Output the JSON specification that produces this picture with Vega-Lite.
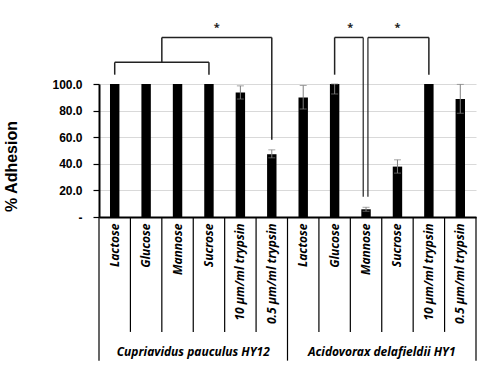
{
  "$schema": "https://vega.github.io/schema/vega-lite/v6.json",
  "width": 377,
  "height": 133,
  "autosize": {"type": "none"},
  "padding": {"left": 99, "top": 84, "right": 11, "bottom": 150},
  "config": {
    "view": {"stroke": null},
    "font": "Noto Sans",
    "axisX": {"title": null, "labelAngle": -90, "labelAlign": "right", "labelBaseline": "middle", "labelPadding": 6, "labelFont": "Noto Sans", "labelFontStyle": "italic", "labelFontWeight": "bold", "labelFontSize": 12, "labelColor": "black", "ticks": false, "domain": true, "domainColor": "black", "domainWidth": 2, "grid": false, "labelLimit": 200, "labelOverlap": false},
    "axisY": {"grid": true, "domain": true, "labelFont": "Liberation Sans", "labelFontWeight": "bold", "labelFontSize": 12, "labelColor": "black", "ticks": true, "tickColor": "black", "tickSize": 6, "tickWidth": 1.2, "labelPadding": 11, "domainColor": "black", "domainWidth": 2, "gridColor": "#d9d9d9", "gridWidth": 1, "titleFont": "Liberation Sans", "titleFontSize": 16, "titleFontWeight": "bold", "titleColor": "black", "titleX": -80, "titleY": 82, "titleAngle": -90, "labelOverlap": false}
  },
  "datasets": {
    "bars": [
      {"key": "C|Lactose", "value": 100},
      {"key": "C|Glucose", "value": 100},
      {"key": "C|Mannose", "value": 100},
      {"key": "C|Sucrose", "value": 100},
      {"key": "C|10 µm/ml trypsin", "value": 93.7, "lo": 88.7, "hi": 98.6},
      {"key": "C|0.5 µm/ml trypsin", "value": 47.2, "lo": 44.5, "hi": 50.5},
      {"key": "A|Lactose", "value": 89.9, "lo": 81.2, "hi": 98.9},
      {"key": "A|Glucose", "value": 100, "lo": 92.5, "hi": 100},
      {"key": "A|Mannose", "value": 5.8, "lo": 4.3, "hi": 7.3},
      {"key": "A|Sucrose", "value": 37.9, "lo": 33, "hi": 43},
      {"key": "A|10 µm/ml trypsin", "value": 100},
      {"key": "A|0.5 µm/ml trypsin", "value": 88.7, "lo": 78, "hi": 99.7}
    ]
  },
  "encoding": {
    "x": {"field": "key", "type": "nominal", "sort": null,
      "scale": {"domain": ["C|Lactose","C|Glucose","C|Mannose","C|Sucrose","C|10 µm/ml trypsin","C|0.5 µm/ml trypsin","A|Lactose","A|Glucose","A|Mannose","A|Sucrose","A|10 µm/ml trypsin","A|0.5 µm/ml trypsin"], "paddingInner": 0, "paddingOuter": 0},
      "axis": {"title": null, "labelExpr": "split(datum.label,'|')[1]"}
    }
  },
  "layer": [
    {
      "data": {"name": "bars"},
      "mark": {"type": "bar", "color": "black", "width": {"band": 0.3}},
      "encoding": {
        "y": {"field": "value", "type": "quantitative", "scale": {"domain": [0, 100], "nice": false},
          "axis": {"title": "% Adhesion", "values": [0, 20, 40, 60, 80, 100], "grid": true, "domain": true, "ticks": true, "labels": true, "labelOverlap": false, "labelExpr": "datum.value==0?'-\u00a0\u00a0\u00a0':format(datum.value,'.1f')"}
        }
      }
    },
    {
      "data": {"name": "bars"},
      "transform": [{"filter": "isValid(datum.lo)"}],
      "mark": {"type": "errorbar", "ticks": {"size": 7}, "color": "#7f7f7f"},
      "encoding": {
        "y": {"field": "lo", "type": "quantitative", "axis": {"title": "% Adhesion", "values": [0, 20, 40, 60, 80, 100], "grid": true, "domain": true, "ticks": true, "labels": true, "labelOverlap": false, "labelExpr": "datum.value==0?'-\u00a0\u00a0\u00a0':format(datum.value,'.1f')"}},
        "y2": {"field": "hi"}
      }
    },
    {
      "data": {"values": [
        {"key": "C|Lactose", "from": 107, "to": 116.3},
        {"key": "C|Sucrose", "from": 107, "to": 116.3},
        {"key": "C|0.5 µm/ml trypsin", "from": 58, "to": 135},
        {"key": "A|Glucose", "from": 107, "to": 135},
        {"key": "A|10 µm/ml trypsin", "from": 107, "to": 135}
      ]},
      "mark": {"type": "rule", "color": "#222222", "strokeWidth": 1.5},
      "encoding": {
        "y": {"field": "from", "type": "quantitative", "axis": {"title": "% Adhesion", "values": [0, 20, 40, 60, 80, 100], "grid": true, "domain": true, "ticks": true, "labels": true, "labelOverlap": false, "labelExpr": "datum.value==0?'-\u00a0\u00a0\u00a0':format(datum.value,'.1f')"}},
        "y2": {"field": "to"}
      }
    },
    {
      "data": {"values": [{"key": "C|Lactose", "key2": "C|Sucrose", "level": 116.3}]},
      "mark": {"type": "rule", "color": "#222222", "strokeWidth": 1.5},
      "encoding": {
        "x2": {"field": "key2"},
        "y": {"field": "level", "type": "quantitative", "axis": {"title": "% Adhesion", "values": [0, 20, 40, 60, 80, 100], "grid": true, "domain": true, "ticks": true, "labels": true, "labelOverlap": false, "labelExpr": "datum.value==0?'-\u00a0\u00a0\u00a0':format(datum.value,'.1f')"}}
      }
    },
    {
      "data": {"values": [{"key": "C|Glucose", "from": 116.3, "to": 135}]},
      "mark": {"type": "rule", "color": "#222222", "strokeWidth": 1.5},
      "encoding": {
        "x": {"field": "key", "type": "nominal", "sort": null, "bandPosition": 1, "axis": {"title": null, "labelExpr": "split(datum.label,'|')[1]"}},
        "y": {"field": "from", "type": "quantitative", "axis": {"title": "% Adhesion", "values": [0, 20, 40, 60, 80, 100], "grid": true, "domain": true, "ticks": true, "labels": true, "labelOverlap": false, "labelExpr": "datum.value==0?'-\u00a0\u00a0\u00a0':format(datum.value,'.1f')"}},
        "y2": {"field": "to"}
      }
    },
    {
      "data": {"values": [{"key": "C|Glucose", "key2": "C|0.5 µm/ml trypsin", "level": 135}]},
      "mark": {"type": "rule", "color": "#222222", "strokeWidth": 1.5},
      "encoding": {
        "x": {"field": "key", "type": "nominal", "sort": null, "bandPosition": 1, "axis": {"title": null, "labelExpr": "split(datum.label,'|')[1]"}},
        "x2": {"field": "key2"},
        "y": {"field": "level", "type": "quantitative", "axis": {"title": "% Adhesion", "values": [0, 20, 40, 60, 80, 100], "grid": true, "domain": true, "ticks": true, "labels": true, "labelOverlap": false, "labelExpr": "datum.value==0?'-\u00a0\u00a0\u00a0':format(datum.value,'.1f')"}}
      }
    },
    {
      "data": {"values": [{"key": "A|Mannose", "from": 15.3, "to": 135}]},
      "mark": {"type": "rule", "color": "#222222", "strokeWidth": 1.2},
      "encoding": {
        "x": {"field": "key", "type": "nominal", "sort": null, "bandPosition": 0.41, "axis": {"title": null, "labelExpr": "split(datum.label,'|')[1]"}},
        "y": {"field": "from", "type": "quantitative", "axis": {"title": "% Adhesion", "values": [0, 20, 40, 60, 80, 100], "grid": true, "domain": true, "ticks": true, "labels": true, "labelOverlap": false, "labelExpr": "datum.value==0?'-\u00a0\u00a0\u00a0':format(datum.value,'.1f')"}},
        "y2": {"field": "to"}
      }
    },
    {
      "data": {"values": [{"key": "A|Mannose", "from": 15.3, "to": 135}]},
      "mark": {"type": "rule", "color": "#222222", "strokeWidth": 1.2},
      "encoding": {
        "x": {"field": "key", "type": "nominal", "sort": null, "bandPosition": 0.56, "axis": {"title": null, "labelExpr": "split(datum.label,'|')[1]"}},
        "y": {"field": "from", "type": "quantitative", "axis": {"title": "% Adhesion", "values": [0, 20, 40, 60, 80, 100], "grid": true, "domain": true, "ticks": true, "labels": true, "labelOverlap": false, "labelExpr": "datum.value==0?'-\u00a0\u00a0\u00a0':format(datum.value,'.1f')"}},
        "y2": {"field": "to"}
      }
    },
    {
      "data": {"values": [{"key": "A|Mannose", "key2": "A|Glucose", "level": 135}]},
      "mark": {"type": "rule", "color": "#222222", "strokeWidth": 1.5},
      "encoding": {
        "x": {"field": "key", "type": "nominal", "sort": null, "bandPosition": 0.41, "axis": {"title": null, "labelExpr": "split(datum.label,'|')[1]"}},
        "x2": {"field": "key2"},
        "y": {"field": "level", "type": "quantitative", "axis": {"title": "% Adhesion", "values": [0, 20, 40, 60, 80, 100], "grid": true, "domain": true, "ticks": true, "labels": true, "labelOverlap": false, "labelExpr": "datum.value==0?'-\u00a0\u00a0\u00a0':format(datum.value,'.1f')"}}
      }
    },
    {
      "data": {"values": [{"key": "A|Mannose", "key2": "A|10 µm/ml trypsin", "level": 135}]},
      "mark": {"type": "rule", "color": "#222222", "strokeWidth": 1.5},
      "encoding": {
        "x": {"field": "key", "type": "nominal", "sort": null, "bandPosition": 0.56, "axis": {"title": null, "labelExpr": "split(datum.label,'|')[1]"}},
        "x2": {"field": "key2"},
        "y": {"field": "level", "type": "quantitative", "axis": {"title": "% Adhesion", "values": [0, 20, 40, 60, 80, 100], "grid": true, "domain": true, "ticks": true, "labels": true, "labelOverlap": false, "labelExpr": "datum.value==0?'-\u00a0\u00a0\u00a0':format(datum.value,'.1f')"}}
      }
    },
    {
      "data": {"values": [{"key": "C|Sucrose", "sig": "*"}]},
      "mark": {"type": "text", "fontSize": 11, "fontWeight": "bold", "color": "#222222"},
      "encoding": {
        "x": {"field": "key", "type": "nominal", "sort": null, "bandPosition": 0.75, "axis": {"title": null, "labelExpr": "split(datum.label,'|')[1]"}},
        "y": {"datum": 142, "type": "quantitative", "axis": {"title": "% Adhesion", "values": [0, 20, 40, 60, 80, 100], "grid": true, "domain": true, "ticks": true, "labels": true, "labelOverlap": false, "labelExpr": "datum.value==0?'-\u00a0\u00a0\u00a0':format(datum.value,'.1f')"}},
        "text": {"field": "sig"}
      }
    },
    {
      "data": {"values": [{"key": "A|Mannose", "sig": "*"}]},
      "mark": {"type": "text", "fontSize": 11, "fontWeight": "bold", "color": "#222222"},
      "encoding": {
        "x": {"field": "key", "type": "nominal", "sort": null, "bandPosition": 0, "axis": {"title": null, "labelExpr": "split(datum.label,'|')[1]"}},
        "y": {"datum": 142, "type": "quantitative", "axis": {"title": "% Adhesion", "values": [0, 20, 40, 60, 80, 100], "grid": true, "domain": true, "ticks": true, "labels": true, "labelOverlap": false, "labelExpr": "datum.value==0?'-\u00a0\u00a0\u00a0':format(datum.value,'.1f')"}},
        "text": {"field": "sig"}
      }
    },
    {
      "data": {"values": [{"key": "A|Sucrose", "sig": "*"}]},
      "mark": {"type": "text", "fontSize": 11, "fontWeight": "bold", "color": "#222222"},
      "encoding": {
        "y": {"datum": 142, "type": "quantitative", "axis": {"title": "% Adhesion", "values": [0, 20, 40, 60, 80, 100], "grid": true, "domain": true, "ticks": true, "labels": true, "labelOverlap": false, "labelExpr": "datum.value==0?'-\u00a0\u00a0\u00a0':format(datum.value,'.1f')"}},
        "text": {"field": "sig"}
      }
    },
    {
      "data": {"name": "bars"},
      "transform": [{"filter": "datum.key != 'C|Lactose' && datum.key != 'A|Lactose'"}],
      "mark": {"type": "rule", "color": "black", "strokeWidth": 1.2},
      "encoding": {
        "x": {"field": "key", "type": "nominal", "sort": null, "bandPosition": 0, "axis": {"title": null, "labelExpr": "split(datum.label,'|')[1]"}},
        "y": {"datum": 0, "type": "quantitative", "axis": {"title": "% Adhesion", "values": [0, 20, 40, 60, 80, 100], "grid": true, "domain": true, "ticks": true, "labels": true, "labelOverlap": false, "labelExpr": "datum.value==0?'-\u00a0\u00a0\u00a0':format(datum.value,'.1f')"}},
        "y2": {"datum": -86.4}
      }
    },
    {
      "data": {"name": "bars"},
      "transform": [{"filter": "datum.key == 'C|Lactose' || datum.key == 'A|Lactose'"}],
      "mark": {"type": "rule", "color": "black", "strokeWidth": 1.2},
      "encoding": {
        "x": {"field": "key", "type": "nominal", "sort": null, "bandPosition": 0, "axis": {"title": null, "labelExpr": "split(datum.label,'|')[1]"}},
        "y": {"datum": 0, "type": "quantitative", "axis": {"title": "% Adhesion", "values": [0, 20, 40, 60, 80, 100], "grid": true, "domain": true, "ticks": true, "labels": true, "labelOverlap": false, "labelExpr": "datum.value==0?'-\u00a0\u00a0\u00a0':format(datum.value,'.1f')"}},
        "y2": {"datum": -108}
      }
    },
    {
      "data": {"name": "bars"},
      "transform": [{"filter": "datum.key == 'A|0.5 µm/ml trypsin'"}],
      "mark": {"type": "rule", "color": "black", "strokeWidth": 1.2},
      "encoding": {
        "x": {"field": "key", "type": "nominal", "sort": null, "bandPosition": 1, "axis": {"title": null, "labelExpr": "split(datum.label,'|')[1]"}},
        "y": {"datum": 0, "type": "quantitative", "axis": {"title": "% Adhesion", "values": [0, 20, 40, 60, 80, 100], "grid": true, "domain": true, "ticks": true, "labels": true, "labelOverlap": false, "labelExpr": "datum.value==0?'-\u00a0\u00a0\u00a0':format(datum.value,'.1f')"}},
        "y2": {"datum": -108}
      }
    },
    {
      "data": {"values": [
        {"key": "C|Mannose", "group": "Cupriavidus pauculus HY12"},
        {"key": "A|Mannose", "group": "Acidovorax delafieldii HY1"}
      ]},
      "mark": {"type": "text", "fontSize": 12, "fontStyle": "italic", "fontWeight": "bold", "color": "black", "font": "Noto Sans"},
      "encoding": {
        "x": {"field": "key", "type": "nominal", "sort": null, "bandPosition": 1, "axis": {"title": null, "labelExpr": "split(datum.label,'|')[1]"}},
        "y": {"datum": -101.5, "type": "quantitative", "axis": {"title": "% Adhesion", "values": [0, 20, 40, 60, 80, 100], "grid": true, "domain": true, "ticks": true, "labels": true, "labelOverlap": false, "labelExpr": "datum.value==0?'-\u00a0\u00a0\u00a0':format(datum.value,'.1f')"}},
        "text": {"field": "group"}
      }
    }
  ]
}
